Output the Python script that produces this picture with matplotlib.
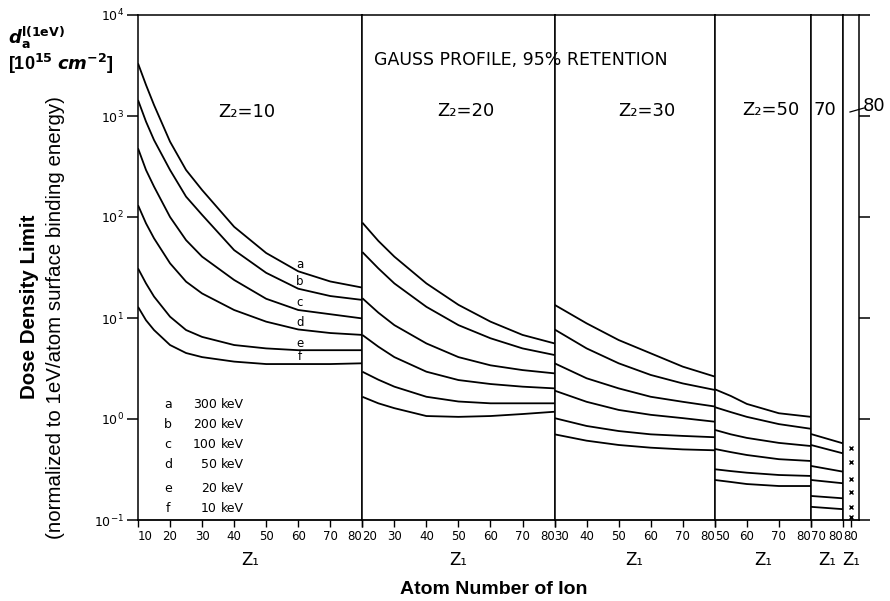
import matplotlib
matplotlib.use("Agg")
import matplotlib.pyplot as plt
from matplotlib.ticker import FixedLocator, NullLocator, LogLocator, LogFormatterMathtext

plt.rcParams['font.family'] = ['DejaVu Sans']

W, H = 890, 601

# Target element Z2 of each panel and its Z1 range
panel_z2 = [10, 20, 30, 50, 70, 80]
panel_xlim = [(10, 80), (20, 80), (30, 80), (50, 80), (70, 80), (77.5, 82.5)]
panel_ticks = [[10, 20, 30, 40, 50, 60, 70, 80],
               [20, 30, 40, 50, 60, 70, 80],
               [30, 40, 50, 60, 70, 80],
               [50, 60, 70, 80],
               [70, 80],
               [80]]

curve_ids = ['a', 'b', 'c', 'd', 'e', 'f']
energies = ['300', '200', '100', '50', '20', '10']

# Z2 = 10
z1_p1 = [10, 12.5, 15, 20, 25, 30, 40, 50, 60, 70, 80]
dose_p1 = {
    'a': [3320, 2030, 1285, 557, 292, 185, 80, 44, 29, 23, 20],
    'b': [1440, 880, 578, 292, 159, 105, 47, 28, 19.5, 16.5, 15.1],
    'c': [479, 292, 200, 100, 59, 40.5, 23.8, 15.5, 12, 10.9, 9.9],
    'd': [131, 86.5, 61.5, 34.8, 22.9, 17.5, 12, 9.2, 7.7, 7.1, 6.8],
    'e': [31, 22, 16.3, 10.3, 7.6, 6.5, 5.4, 5.0, 4.8, 4.8, 4.8],
    'f': [12.9, 9.5, 7.6, 5.4, 4.5, 4.1, 3.7, 3.5, 3.5, 3.5, 3.56],
}

# Z2 = 20
z1_p2 = [20, 25, 30, 40, 50, 60, 70, 80]
dose_p2 = {
    'a': [88, 58, 40.5, 22, 13.5, 9.2, 6.8, 5.6],
    'b': [45, 31, 22, 12.9, 8.5, 6.3, 5.0, 4.3],
    'c': [15.7, 11.3, 8.5, 5.6, 4.1, 3.4, 3.05, 2.83],
    'd': [6.8, 5.2, 4.1, 2.94, 2.43, 2.22, 2.09, 2.01],
    'e': [2.94, 2.45, 2.09, 1.66, 1.49, 1.43, 1.43, 1.43],
    'f': [1.66, 1.43, 1.28, 1.07, 1.05, 1.07, 1.12, 1.18],
}

# Z2 = 30
z1_p3 = [30, 40, 50, 60, 70, 80]
dose_p3 = {
    'a': [13.5, 8.85, 6.05, 4.47, 3.3, 2.63],
    'b': [7.7, 5.0, 3.56, 2.73, 2.25, 1.94],
    'c': [3.56, 2.53, 2.01, 1.66, 1.48, 1.33],
    'd': [1.91, 1.48, 1.23, 1.10, 1.02, 0.94],
    'e': [1.02, 0.853, 0.76, 0.705, 0.68, 0.66],
    'f': [0.705, 0.61, 0.553, 0.52, 0.50, 0.49],
}

# Z2 = 50
z1_p4 = [50, 55, 60, 70, 80]
dose_p4 = {
    'a': [1.97, 1.69, 1.41, 1.14, 1.05],
    'b': [1.31, 1.17, 1.05, 0.89, 0.80],
    'c': [0.78, 0.705, 0.65, 0.58, 0.54],
    'd': [0.505, 0.47, 0.44, 0.40, 0.384],
    'e': [0.318, 0.305, 0.294, 0.279, 0.273],
    'f': [0.249, 0.238, 0.227, 0.217, 0.217],
}

# Z2 = 70
z1_p5 = [70, 80]
dose_p5 = {
    'a': [0.71, 0.574],
    'b': [0.553, 0.457],
    'c': [0.343, 0.301],
    'd': [0.249, 0.231],
    'e': [0.173, 0.164],
    'f': [0.135, 0.128],
}

# Z2 = 80, single points
z1_p6 = 80
dose_p6 = [0.513, 0.377, 0.253, 0.19, 0.134, 0.108]

panels_z1 = [z1_p1, z1_p2, z1_p3, z1_p4, z1_p5]
panels_dose = [dose_p1, dose_p2, dose_p3, dose_p4, dose_p5]


def fx(x):
    return x / W


def fy(y):
    return 1 - y / H


fig = plt.figure(figsize=(W / 100, H / 100), dpi=100)
widths = [hi - lo for lo, hi in panel_xlim]
gs = fig.add_gridspec(1, 6, width_ratios=widths, wspace=0,
                      left=fx(138), right=fx(859), top=fy(15), bottom=fy(520))
axes = [fig.add_subplot(gs[0, i]) for i in range(6)]

for i, ax in enumerate(axes):
    ax.set_yscale('log')
    ax.set_ylim(1e-1, 1e4)
    ax.set_xlim(*panel_xlim[i])
    for sp in ax.spines.values():
        sp.set_linewidth(1.1)
    ax.spines['bottom'].set_linewidth(1.3)
    ax.xaxis.set_major_locator(FixedLocator(panel_ticks[i]))
    ax.xaxis.set_minor_locator(NullLocator())
    ax.set_xticklabels([str(t) for t in panel_ticks[i]])
    ax.tick_params(axis='x', direction='out', length=5, width=1.0,
                   labelsize=8.5, pad=2)
    labels = ax.get_xticklabels()
    if len(labels) > 1:
        labels[0].set_ha('left')
        labels[-1].set_ha('right')
    ax.yaxis.set_minor_locator(NullLocator())
    if i == 0:
        ax.yaxis.set_major_locator(LogLocator(base=10, numticks=10))
        ax.yaxis.set_major_formatter(LogFormatterMathtext())
        ax.tick_params(axis='y', direction='out', length=8, width=1.1,
                       labelsize=9, pad=2)
    elif i == 5:
        ax.yaxis.set_major_locator(LogLocator(base=10, numticks=10))
        ax.yaxis.tick_right()
        ax.tick_params(axis='y', direction='out', length=8, width=1.1,
                       labelright=False)
    else:
        ax.yaxis.set_major_locator(NullLocator())
    ax.set_xlabel('Z₁', fontsize=12, labelpad=6)

# curves
for ax, z1, dose in zip(axes[:5], panels_z1, panels_dose):
    for cid in curve_ids:
        ax.plot(z1, dose[cid], color='black', lw=1.3, solid_capstyle='butt')

axes[5].plot([z1_p6] * len(dose_p6), dose_p6, linestyle='none', marker='x',
             color='black', markersize=3.5, markeredgewidth=1.0)

# curve letters in the Z2 = 10 panel
for k, cid in enumerate(curve_ids):
    axes[0].annotate(cid, (60.5, dose_p1[cid][8]), xytext=(0, 0.5),
                     textcoords='offset points', ha='center', va='bottom',
                     fontsize=8.5)

# energy key
key_rows = [404, 425, 444, 465, 488, 508]
for cid, en, yy in zip(curve_ids, energies, key_rows):
    fig.text(fx(168), fy(yy), cid, fontsize=9, ha='center', va='center')
    fig.text(fx(217), fy(yy), en, fontsize=9, ha='right', va='center')
    fig.text(fx(221), fy(yy), 'keV', fontsize=9, ha='left', va='center')

# panel headings
fig.text(fx(247), fy(112), 'Z₂=10', fontsize=13, ha='center', va='center')
fig.text(fx(466), fy(111), 'Z₂=20', fontsize=13, ha='center', va='center')
fig.text(fx(647), fy(111), 'Z₂=30', fontsize=13, ha='center', va='center')
fig.text(fx(771), fy(110), 'Z₂=50', fontsize=13, ha='center', va='center')
fig.text(fx(825), fy(110), '70', fontsize=13, ha='center', va='center')
fig.text(fx(874), fy(106), '80', fontsize=13, ha='center', va='center')
fig.add_artist(plt.Line2D([fx(850), fx(864)], [fy(112), fy(108)],
                          color='black', lw=0.9))

fig.text(fx(521), fy(60), 'GAUSS PROFILE, 95% RETENTION', fontsize=12.5,
         ha='center', va='center')

# axis titles
fig.text(fx(494), fy(589), 'Atom Number of Ion', fontsize=14,
         fontweight='bold', family='Liberation Sans', ha='center', va='center')
fig.text(fx(30), fy(307), 'Dose Density Limit', fontsize=14.8,
         fontweight='bold', family='Liberation Sans', rotation=90,
         ha='center', va='center')
fig.text(fx(56), fy(318), '(normalized to 1eV/atom surface binding energy)',
         fontsize=14.8, family='Liberation Sans', rotation=90,
         ha='center', va='center')

fig.text(fx(8), fy(38), r'$\mathbfit{d}_{\mathbf{a}}^{\mathbf{l(1eV)}}$',
         fontsize=13, ha='left', va='center')
fig.text(fx(8), fy(64), r'[10$^{\mathbf{15}}$ $\mathbfit{cm}^{\mathbf{-2}}$]',
         fontsize=13, fontweight='bold', family='Liberation Sans',
         ha='left', va='center')

fig.savefig('out.png', dpi=100)
